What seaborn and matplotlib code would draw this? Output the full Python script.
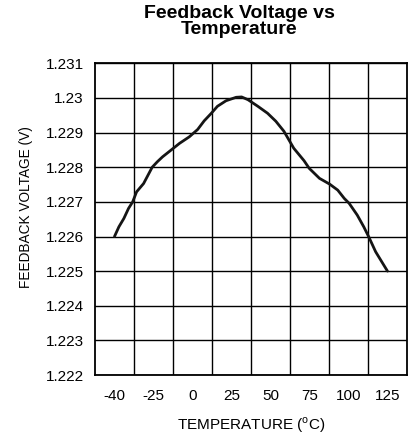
import matplotlib
matplotlib.use("Agg")
import matplotlib.pyplot as plt
import seaborn as sns
import numpy as np

# values
temperature = [-40, -38.3, -36.4, -34.6, -33.0, -31.5, -28.8, -25.5, -22.5, -19.2,
               -13.6, -8.3, -2.0, 3.3, 7.5, 11.7, 16.0, 21.5, 28.0, 31.5,
               35.6, 41.9, 48.1, 53.4, 58.6, 64.9, 71.5, 74.8, 81.4, 88.0,
               93.1, 97.3, 100.4, 105.6, 109.8, 113.0, 117.4, 125.0]
voltage = [1.22600, 1.22628, 1.22652, 1.22681, 1.22700, 1.22729, 1.22753, 1.22800, 1.22816, 1.22830,
           1.22850, 1.22869, 1.22888, 1.22909, 1.22934, 1.22954, 1.22976, 1.22992, 1.23002, 1.23003,
           1.22995, 1.22976, 1.22956, 1.22933, 1.22904, 1.22855, 1.22819, 1.22797, 1.22768, 1.22751,
           1.22734, 1.22710, 1.22696, 1.22662, 1.22628, 1.22599, 1.22556, 1.22500]

x_ticks = [-40, -25, 0, 25, 50, 75, 100, 125]
x_tick_labels = ["-40", "-25", "0", "25", "50", "75", "100", "125"]
y_ticks = [1.222, 1.223, 1.224, 1.225, 1.226, 1.227, 1.228, 1.229, 1.23, 1.231]
y_tick_labels = ["1.222", "1.223", "1.224", "1.225", "1.226", "1.227", "1.228", "1.229", "1.23", "1.231"]

sns.set_theme(style="white")
plt.rcParams["font.family"] = ["Liberation Sans", "DejaVu Sans"]
plt.rcParams["text.color"] = "black"
plt.rcParams["axes.labelcolor"] = "black"

# the datasheet axis spaces its labels evenly, so use a piecewise scale
anchor_t = [-47.5] + x_ticks + [137.5]
anchor_i = [-0.5] + list(range(len(x_ticks))) + [len(x_ticks) - 0.5]
fwd = lambda t: np.interp(t, anchor_t, anchor_i)
inv = lambda i: np.interp(i, anchor_i, anchor_t)
cell_edges = [float(inv(k + 0.5)) for k in range(len(x_ticks) - 1)]

fig = plt.figure(figsize=(4.08, 4.40), dpi=100)
ax = fig.add_axes([0.2328, 0.1477, 0.7647, 0.7083])

sns.lineplot(x=temperature, y=voltage, ax=ax, color="#151515", linewidth=2.0)

ax.set_xscale("function", functions=(fwd, inv))
ax.set_xlim(-47.5, 137.5)
ax.set_ylim(1.222, 1.231)
ax.set_xticks(x_ticks)
ax.set_xticklabels(x_tick_labels)
ax.set_xticks(cell_edges, minor=True)
ax.set_yticks(y_ticks)
ax.set_yticklabels(y_tick_labels)

ax.grid(False)
ax.grid(True, which="minor", axis="x", color="black", linewidth=1.0)
ax.grid(True, which="major", axis="y", color="black", linewidth=1.0)
ax.tick_params(axis="both", which="both", length=0, labelsize=11, colors="black")
ax.tick_params(axis="x", pad=10)
ax.tick_params(axis="y", pad=8)
for s in ax.spines.values():
    s.set_color("black")
    s.set_linewidth(1.3)

ax.set_xlabel("TEMPERATURE ($^{\\mathregular{o}}$C)", fontsize=11, labelpad=9)
ax.set_ylabel("FEEDBACK VOLTAGE (V)", fontsize=9.8)
ax.yaxis.set_label_coords(-0.20, 0.538)

fig.text(0.586, 1 - 5 / 440, "Feedback Voltage vs\nTemperature", ha="center", va="top",
         fontsize=14, fontweight="bold", linespacing=0.93)

fig.savefig("out.png", dpi=100)
